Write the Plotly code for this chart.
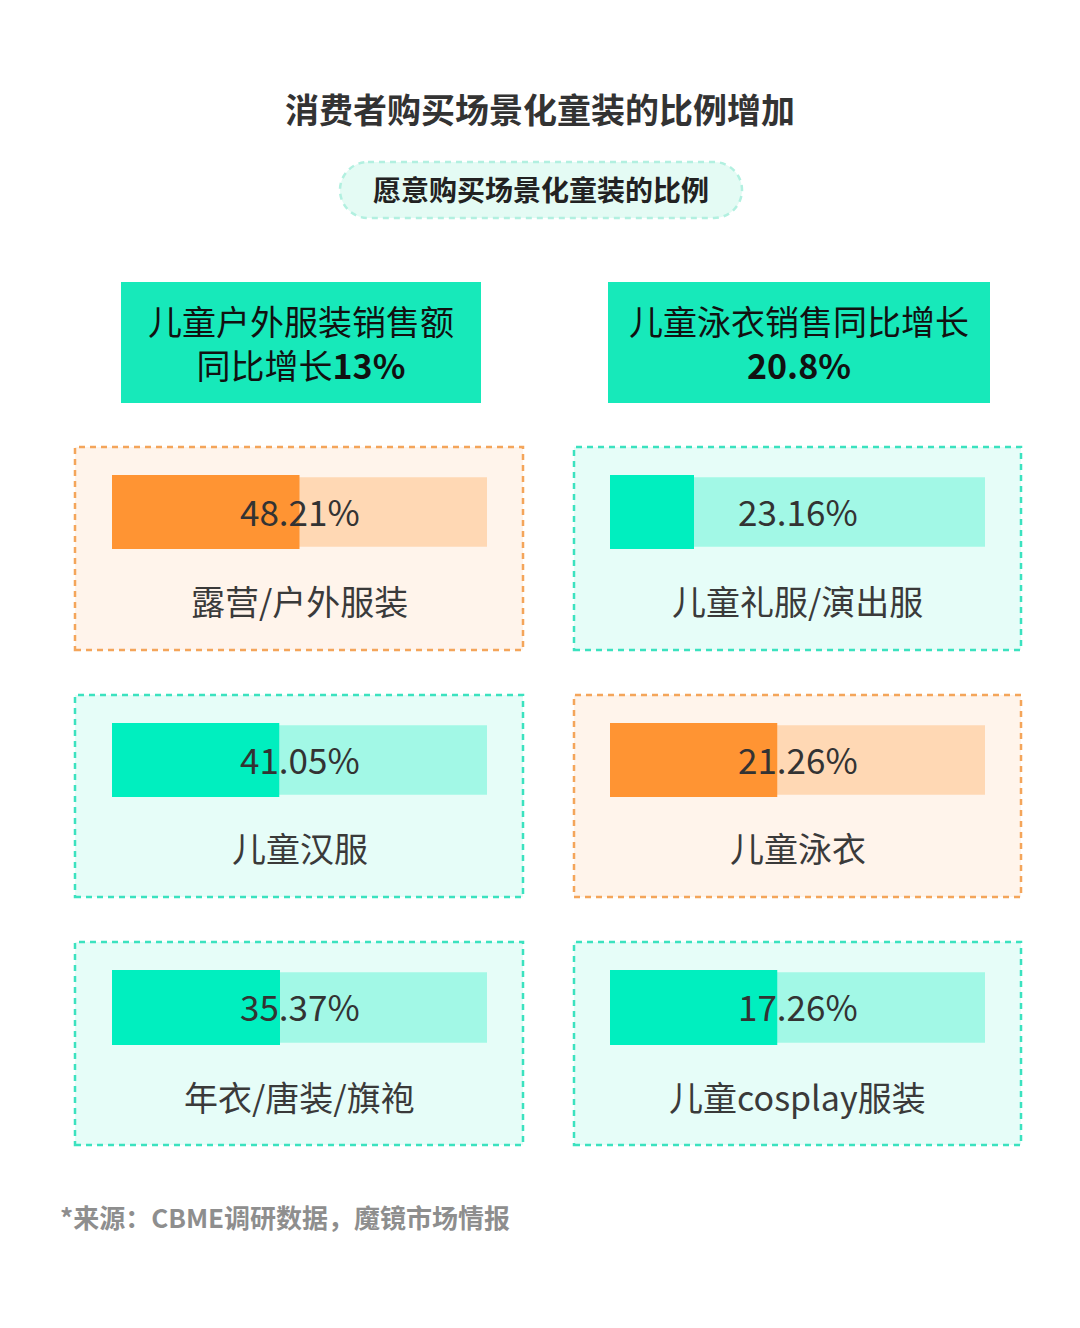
import plotly.graph_objects as go

W, H = 1080, 1328

# ---- data ----
labels = ["露营/户外服装", "儿童汉服", "年衣/唐装/旗袍",
          "儿童礼服/演出服", "儿童泳衣", "儿童cosplay服装"]
values = [48.21, 41.05, 35.37, 23.16, 21.26, 17.26]
# filled share of each bar as it is drawn in the source (not to scale with the labels)
bar_fill = [50.0, 44.6, 44.8, 22.4, 44.6, 44.6]
themes = ["orange", "teal", "teal", "teal", "orange", "teal"]

headers = ["儿童户外服装销售额<br>同比增长<b>13%</b>",
           "儿童泳衣销售同比增长<br><b>20.8%</b>"]

title = "<b>消费者购买场景化童装的比例增加</b>"
subtitle = "<b>愿意购买场景化童装的比例</b>"
source = "<b>*来源：CBME调研数据，魔镜市场情报</b>"

colors = {
    "orange": dict(bar="#FF9433", track="#FFD8B4", card="#FFF4EB", border="#F4A55A"),
    "teal": dict(bar="#00EFBF", track="#A2F8E6", card="#E6FDF8", border="#3BE2BF"),
}

FONT = "Noto Sans CJK SC"


def px(x):
    return x / W


def py(y):
    return 1 - y / H


def note(text, x, y, size, color, xref="paper", yref="paper", xanchor="center", yshift=0):
    return dict(x=x, y=y, xref=xref, yref=yref, showarrow=False, text=text,
                xanchor=xanchor, yanchor="middle", align="center", yshift=yshift,
                font=dict(family=FONT, size=size, color=color))


# layout boxes in pixels (columns / rows)
col_card = [(75, 523), (574, 1021)]
col_bar = [(112, 487), (610, 985)]
row_card = [(447, 650), (695, 897), (942, 1145)]
row_bar = [(475, 549), (723, 797), (970, 1045)]

fig = go.Figure()
shapes = []
annotations = []

for i, (lab, val, fill, th) in enumerate(zip(labels, values, bar_fill, themes)):
    c, r = i // 3, i % 3
    c_ = colors[th]
    ax = "" if i == 0 else str(i + 1)
    xa, ya = "x" + ax, "y" + ax

    # card behind the bar
    shapes.append(dict(type="rect", xref="paper", yref="paper", layer="below",
                       x0=px(col_card[c][0]), x1=px(col_card[c][1]),
                       y0=py(row_card[r][1]), y1=py(row_card[r][0]),
                       fillcolor=c_["card"],
                       line=dict(color=c_["border"], width=2.5, dash="6px,5px")))

    fig.add_trace(go.Bar(x=[100], y=[0], orientation="h", width=0.94,
                         marker=dict(color=c_["track"], line_width=0),
                         xaxis=xa, yaxis=ya, hoverinfo="skip", showlegend=False))
    fig.add_trace(go.Bar(x=[fill], y=[0], orientation="h", width=1.0,
                         marker=dict(color=c_["bar"], line_width=0),
                         xaxis=xa, yaxis=ya, hoverinfo="skip", showlegend=False))

    fig.layout["xaxis" + ax] = dict(domain=[px(col_bar[c][0]), px(col_bar[c][1])],
                                    range=[0, 100], visible=False, fixedrange=True,
                                    anchor=ya)
    fig.layout["yaxis" + ax] = dict(domain=[py(row_bar[r][1]), py(row_bar[r][0])],
                                    range=[-0.5, 0.5], visible=False, fixedrange=True,
                                    anchor=xa)

    annotations.append(note(f"{val:.2f}%", 50, 0, 35, "#333333", xref=xa, yref=ya,
                            yshift=2))
    annotations.append(note(lab, px(sum(col_bar[c]) / 2), py(row_bar[r][1] + 51),
                            34, "#3a3a3a"))

# header boxes
head_x = [(121, 481), (608, 990)]
for (x0, x1), txt in zip(head_x, headers):
    shapes.append(dict(type="rect", xref="paper", yref="paper", layer="below",
                       x0=px(x0), x1=px(x1), y0=py(403), y1=py(282),
                       fillcolor="#17E9BA", line_width=0))
    annotations.append(note(txt, px((x0 + x1) / 2), py(342), 34, "#111111"))


# pill behind subtitle
def pill(x0, y0, x1, y1, rad):
    k = 0.5523 * rad
    pts = [
        f"M{px(x0 + rad)},{py(y0)}",
        f"L{px(x1 - rad)},{py(y0)}",
        f"C{px(x1 - rad + k)},{py(y0)} {px(x1)},{py(y0 + rad - k)} {px(x1)},{py(y0 + rad)}",
        f"L{px(x1)},{py(y1 - rad)}",
        f"C{px(x1)},{py(y1 - rad + k)} {px(x1 - rad + k)},{py(y1)} {px(x1 - rad)},{py(y1)}",
        f"L{px(x0 + rad)},{py(y1)}",
        f"C{px(x0 + rad - k)},{py(y1)} {px(x0)},{py(y1 - rad + k)} {px(x0)},{py(y1 - rad)}",
        f"L{px(x0)},{py(y0 + rad)}",
        f"C{px(x0)},{py(y0 + rad - k)} {px(x0 + rad - k)},{py(y0)} {px(x0 + rad)},{py(y0)}",
        "Z",
    ]
    return " ".join(pts)


shapes.append(dict(type="path", xref="paper", yref="paper", layer="below",
                   path=pill(340, 162, 742, 218, 28),
                   fillcolor="#E4FBF4",
                   line=dict(color="#B2F0E0", width=2.5, dash="6px,5px")))

annotations.append(note(title, 0.5, py(108), 34, "#333333"))
annotations.append(note(subtitle, px(541), py(189), 28, "#222222"))
annotations.append(note(source, px(58), py(1216), 26, "#8e8e8e", xanchor="left"))

fig.update_layout(width=W, height=H, margin=dict(l=0, r=0, t=0, b=0),
                  paper_bgcolor="white", plot_bgcolor="rgba(0,0,0,0)",
                  barmode="overlay", shapes=shapes, annotations=annotations,
                  font=dict(family=FONT))

fig.write_html("out.html", config={"displayModeBar": False},
               post_script="document.body.style.margin='0';")
